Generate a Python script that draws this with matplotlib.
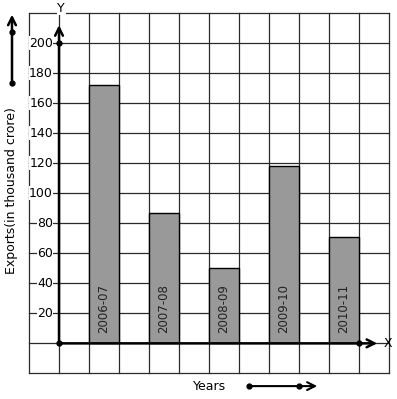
import numpy as np
import matplotlib
matplotlib.use('Agg')
import matplotlib.pyplot as plt

# data
years = ['2006-07', '2007-08', '2008-09', '2009-10', '2010-11']
exports = [172, 87, 50, 118, 71]
bar_left = [1, 3, 5, 7, 9]
yticks = [20, 40, 60, 80, 100, 120, 140, 160, 180, 200]

fig = plt.figure(figsize=(3.97, 3.99), dpi=100)
ax = fig.add_axes([0, 0, 1, 1])
ax.set_xlim(-1.967, 11.267)
ax.set_ylim(-37.1, 228.9)
ax.axis('off')

# graph paper grid
gc = '#2a2a2a'
for gx in np.arange(-1, 12):
    ax.plot([gx, gx], [-20, 220], color=gc, lw=0.9, zorder=1)
for gy in np.arange(-20, 221, 20):
    ax.plot([-1, 11], [gy, gy], color=gc, lw=0.9, zorder=1)

# bars
ax.bar(bar_left, exports, width=1, align='edge', color='#999999',
       edgecolor='black', linewidth=1, zorder=2)
for x, lab in zip(bar_left, years):
    ax.text(x + 0.5, 7, lab, rotation=90, ha='center', va='bottom',
            fontsize=8.5, color='#222222', zorder=3)

# axes with arrows
ax.annotate('', xy=(0, 214), xytext=(0, 0),
            arrowprops=dict(arrowstyle='->', lw=1.8, color='black',
                            mutation_scale=14), zorder=4)
ax.annotate('', xy=(10.7, 0), xytext=(0, 0),
            arrowprops=dict(arrowstyle='->', lw=1.8, color='black',
                            mutation_scale=14), zorder=4)
ax.plot([0, 0, 10], [0, 200, 0], 'o', color='black', ms=3.5, zorder=5)

ax.text(0.07, 223.5, 'Y', ha='center', va='center', fontsize=9,
        bbox=dict(facecolor='white', edgecolor='none', pad=0.5), zorder=4)
ax.text(10.98, 0, 'X', ha='center', va='center', fontsize=9, zorder=4)

# tick labels
for t in yticks:
    ax.text(-0.2, t, str(t), ha='right', va='center', fontsize=9,
            bbox=dict(facecolor='white', edgecolor='none', pad=0.3), zorder=4)

# axis titles
ax.text(-1.567, 102, 'Exports(in thousand crore)', rotation=90,
        ha='center', va='center', fontsize=9)
ax.text(5.03, -28.5, 'Years', ha='center', va='center', fontsize=9)

# little direction arrows
ax.annotate('', xy=(-1.567, 221), xytext=(-1.567, 173.5),
            arrowprops=dict(arrowstyle='->', lw=1.8, color='black',
                            mutation_scale=14))
ax.plot([-1.567, -1.567], [173.5, 207.5], 'o', color='black', ms=3.5)
ax.annotate('', xy=(8.7, -28.5), xytext=(6.33, -28.5),
            arrowprops=dict(arrowstyle='->', lw=1.5, color='black',
                            mutation_scale=14))
ax.plot([6.33, 8.0], [-28.5, -28.5], 'o', color='black', ms=3.5)

fig.savefig('out.png', dpi=100, facecolor='white')
